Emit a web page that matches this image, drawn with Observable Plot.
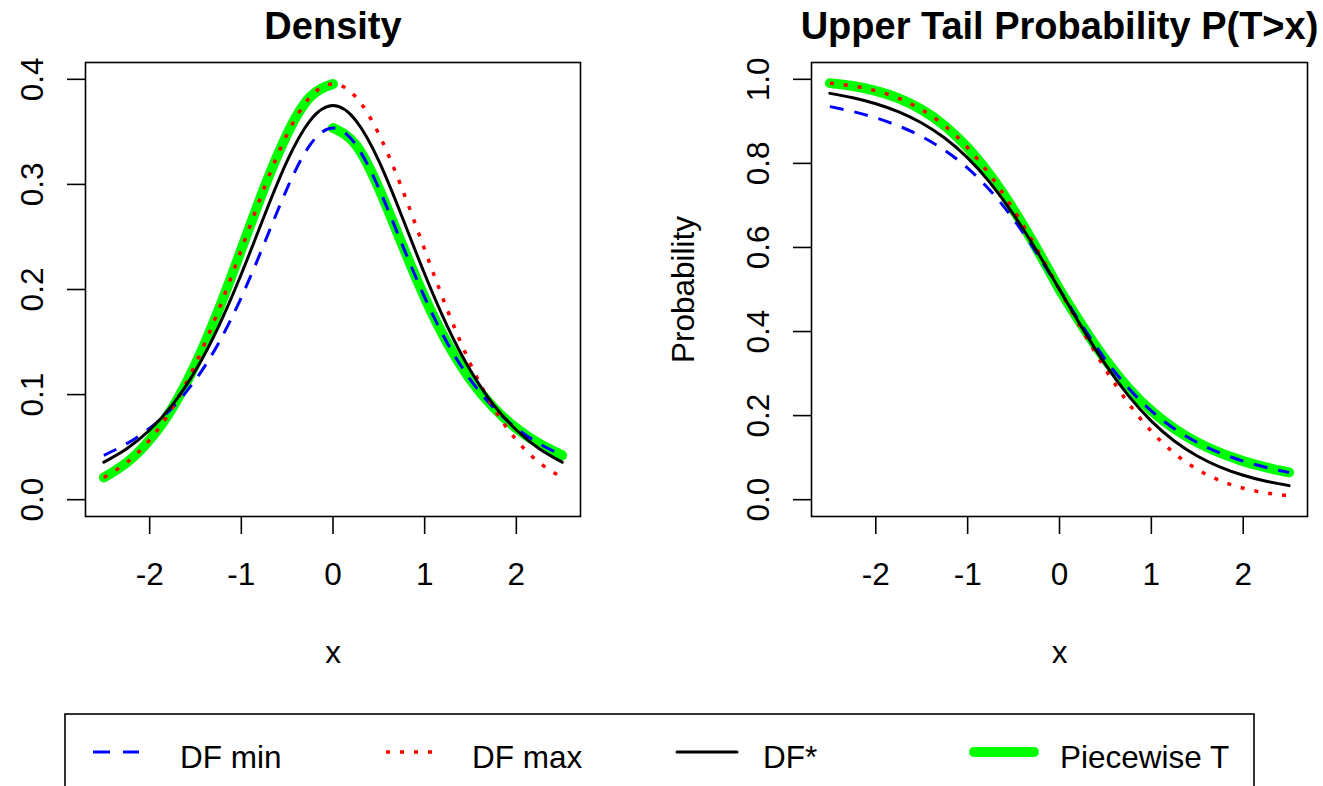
<!DOCTYPE html>
<html>
<head>
<meta charset="utf-8">
<script src="https://cdn.jsdelivr.net/npm/d3@7"></script>
<script src="https://cdn.jsdelivr.net/npm/@observablehq/plot@0.6"></script>
<style>
html, body { margin: 0; padding: 0; background: #fff; }
#wrap { position: relative; width: 1323px; height: 786px; overflow: hidden; background: #fff; }
#wrap > * { position: absolute; }
</style>
</head>
<body>
<div id="wrap"></div>
<script>
// ---------- data ----------
const xGrid = [-2.5, -2.25, -2, -1.75, -1.5, -1.25, -1, -0.75, -0.5, -0.25, 0,
               0.25, 0.5, 0.75, 1, 1.25, 1.5, 1.75, 2, 2.25, 2.5];

// Density panel
const densDfMin  = [0.0422, 0.0533, 0.0680, 0.0878, 0.1141, 0.1487, 0.1925, 0.2438, 0.2963, 0.3376, 0.3536,
                    0.3376, 0.2963, 0.2438, 0.1925, 0.1487, 0.1141, 0.0878, 0.0680, 0.0533, 0.0422];
const densDfMax  = [0.0211, 0.0353, 0.0569, 0.0876, 0.1290, 0.1801, 0.2380, 0.2967, 0.3479, 0.3831, 0.3956,
                    0.3831, 0.3479, 0.2967, 0.2380, 0.1801, 0.1290, 0.0876, 0.0569, 0.0353, 0.0211];
const densDfStar = [0.0357, 0.0485, 0.0663, 0.0905, 0.1229, 0.1645, 0.2147, 0.2699, 0.3223, 0.3607, 0.3750,
                    0.3607, 0.3223, 0.2699, 0.2147, 0.1645, 0.1229, 0.0905, 0.0663, 0.0485, 0.0357];
const pieceLeftX  = [-2.5, -2.25, -2, -1.75, -1.5, -1.25, -1, -0.75, -0.5, -0.25, 0];
const pieceRightX = [0, 0.25, 0.5, 0.75, 1, 1.25, 1.5, 1.75, 2, 2.25, 2.5];
const densPieceLeft  = [0.0211, 0.0353, 0.0569, 0.0876, 0.1290, 0.1801, 0.2380, 0.2967, 0.3479, 0.3831, 0.3956];
const densPieceRight = [0.3536, 0.3376, 0.2963, 0.2438, 0.1925, 0.1487, 0.1141, 0.0878, 0.0680, 0.0533, 0.0422];

// Upper tail panel
const tailDfMin  = [0.9352, 0.9233, 0.9083, 0.8889, 0.8638, 0.8311, 0.7887, 0.7343, 0.6667, 0.5870, 0.5,
                    0.4130, 0.3333, 0.2657, 0.2113, 0.1689, 0.1362, 0.1111, 0.0917, 0.0767, 0.0648];
const tailDfMax  = [0.9909, 0.9840, 0.9727, 0.9548, 0.9279, 0.8895, 0.8373, 0.7704, 0.6897, 0.5979, 0.5,
                    0.4021, 0.3103, 0.2296, 0.1627, 0.1105, 0.0721, 0.0452, 0.0273, 0.0160, 0.0091];
const tailDfStar = [0.9666, 0.9562, 0.9419, 0.9225, 0.8960, 0.8603, 0.8131, 0.7525, 0.6783, 0.5925, 0.5,
                    0.4075, 0.3217, 0.2475, 0.1869, 0.1397, 0.1040, 0.0775, 0.0581, 0.0438, 0.0334];
const tailPieceLeft  = [0.9909, 0.9840, 0.9727, 0.9548, 0.9279, 0.8895, 0.8373, 0.7704, 0.6897, 0.5979, 0.5];
const tailPieceRight = [0.5, 0.4130, 0.3333, 0.2657, 0.2113, 0.1689, 0.1362, 0.1111, 0.0917, 0.0767, 0.0648];

// ticks & labels
const xTicks = [-2, -1, 0, 1, 2];
const xTickLabels = ["-2", "-1", "0", "1", "2"];
const densTicks = [0, 0.1, 0.2, 0.3, 0.4];
const densTickLabels = ["0.0", "0.1", "0.2", "0.3", "0.4"];
const tailTicks = [0, 0.2, 0.4, 0.6, 0.8, 1.0];
const tailTickLabels = ["0.0", "0.2", "0.4", "0.6", "0.8", "1.0"];

const titles = ["Density", "Upper Tail Probability P(T>x)"];
const xLabel = "x";
const yLabelTail = "Probability";
const seriesNames = ["DF min", "DF max", "DF*", "Piecewise T"];

// ---------- styles ----------
const FONT = '"Liberation Sans", Arial, Helvetica, sans-serif';
const FS = 31.5;
const styles = {
  "DF min":      {stroke: "#0000FF", strokeWidth: 3,   strokeDasharray: "14,11", strokeLinecap: "butt"},
  "DF max":      {stroke: "#FF0000", strokeWidth: 3.5, strokeDasharray: "4,10",  strokeLinecap: "butt"},
  "DF*":         {stroke: "#000000", strokeWidth: 3,   strokeDasharray: null,    strokeLinecap: "round"},
  "Piecewise T": {stroke: "#00FF00", strokeWidth: 10,  strokeDasharray: null,    strokeLinecap: "round"}
};

function rows(xs, ys, seg) { return xs.map((x, i) => ({x, y: ys[i], seg})); }

function lineMark(data, name) {
  const s = styles[name];
  const o = {x: "x", y: "y", z: "seg", stroke: s.stroke, strokeWidth: s.strokeWidth,
             strokeLinecap: s.strokeLinecap, strokeLinejoin: "round", curve: "natural"};
  if (s.strokeDasharray) o.strokeDasharray = s.strokeDasharray;
  return Plot.line(data, o);
}

function panel({width, marginLeft, marginRight, yDomain, yTicks, yTickLabels, series, title, ylab}) {
  const marks = [
    ...series.map(([data, name]) => lineMark(data, name)),
    Plot.frame({stroke: "black", strokeWidth: 1.6}),
    Plot.axisX(xTicks, {tickSize: 18, tickPadding: 28, strokeWidth: 1.6,
      tickFormat: d => xTickLabels[xTicks.indexOf(d)], label: null, fontSize: FS}),
    Plot.axisY(yTicks, {tickSize: 18, strokeWidth: 1.6, tickFormat: () => "", label: null}),
    Plot.text(yTicks, {y: d => d, text: (d, i) => yTickLabels[i], frameAnchor: "left", dx: -43,
      rotate: -90, textAnchor: "middle", lineAnchor: "bottom", fontSize: FS, fill: "black"}),
    Plot.text([title], {text: d => d, frameAnchor: "top", dy: -24, lineAnchor: "bottom",
      fontWeight: "bold", fontSize: 38, fill: "black"}),
    Plot.text([xLabel], {text: d => d, frameAnchor: "bottom", dy: 146, lineAnchor: "bottom",
      fontSize: FS, fill: "black"})
  ];
  if (ylab) marks.push(Plot.text([ylab], {text: d => d, frameAnchor: "left", dx: -118, rotate: -90,
      textAnchor: "middle", lineAnchor: "bottom", fontSize: FS, fill: "black"}));
  return Plot.plot({
    width, height: 700, marginLeft, marginRight, marginTop: 62, marginBottom: 184,
    style: {fontFamily: FONT, fontSize: FS + "px", color: "black", background: "transparent", overflow: "visible"},
    x: {domain: [-2.7, 2.7]},
    y: {domain: yDomain},
    marks
  });
}

const wrap = document.getElementById("wrap");

const densPlot = panel({
  width: 661, marginLeft: 85, marginRight: 81,
  yDomain: [-0.016, 0.416], yTicks: densTicks, yTickLabels: densTickLabels,
  title: titles[0], ylab: null,
  series: [
    [rows(pieceLeftX, densPieceLeft, "L").concat(rows(pieceRightX, densPieceRight, "R")), "Piecewise T"],
    [rows(xGrid, densDfMin, "a"), "DF min"],
    [rows(xGrid, densDfMax, "a"), "DF max"],
    [rows(xGrid, densDfStar, "a"), "DF*"]
  ]
});
densPlot.style.left = "0px"; densPlot.style.top = "0px";
wrap.appendChild(densPlot);

const tailPlot = panel({
  width: 662, marginLeft: 150, marginRight: 16,
  yDomain: [-0.04, 1.04], yTicks: tailTicks, yTickLabels: tailTickLabels,
  title: titles[1], ylab: yLabelTail,
  series: [
    [rows(pieceLeftX, tailPieceLeft, "L").concat(rows(pieceRightX, tailPieceRight, "R")), "Piecewise T"],
    [rows(xGrid, tailDfMin, "a"), "DF min"],
    [rows(xGrid, tailDfMax, "a"), "DF max"],
    [rows(xGrid, tailDfStar, "a"), "DF*"]
  ]
});
tailPlot.style.left = "661px"; tailPlot.style.top = "0px";
wrap.appendChild(tailPlot);

// ---------- legend ----------
const legendItems = [
  {name: seriesNames[0], x0: 93,  x1: 139,  tx: 180},
  {name: seriesNames[1], x0: 386, x1: 435,  tx: 472},
  {name: seriesNames[2], x0: 677, x1: 737,  tx: 763},
  {name: seriesNames[3], x0: 974, x1: 1034, tx: 1060}
];
const leg = d3.create("svg").attr("width", 1323).attr("height", 86)
  .style("left", "0px").style("top", "700px").style("font-family", FONT);
leg.append("rect").attr("x", 65).attr("y", 14).attr("width", 1189).attr("height", 120)
  .attr("fill", "none").attr("stroke", "black").attr("stroke-width", 1.6);
for (const it of legendItems) {
  const s = styles[it.name];
  const ln = leg.append("line").attr("x1", it.x0).attr("x2", it.x1).attr("y1", 52).attr("y2", 52)
    .attr("stroke", s.stroke).attr("stroke-width", s.strokeWidth).attr("stroke-linecap", s.strokeLinecap);
  if (s.strokeDasharray) ln.attr("stroke-dasharray", it.name === "DF min" ? "17,13" : s.strokeDasharray);
  leg.append("text").attr("x", it.tx).attr("y", 67.5).attr("font-size", FS).attr("fill", "black").text(it.name);
}
wrap.appendChild(leg.node());
</script>
</body>
</html>
